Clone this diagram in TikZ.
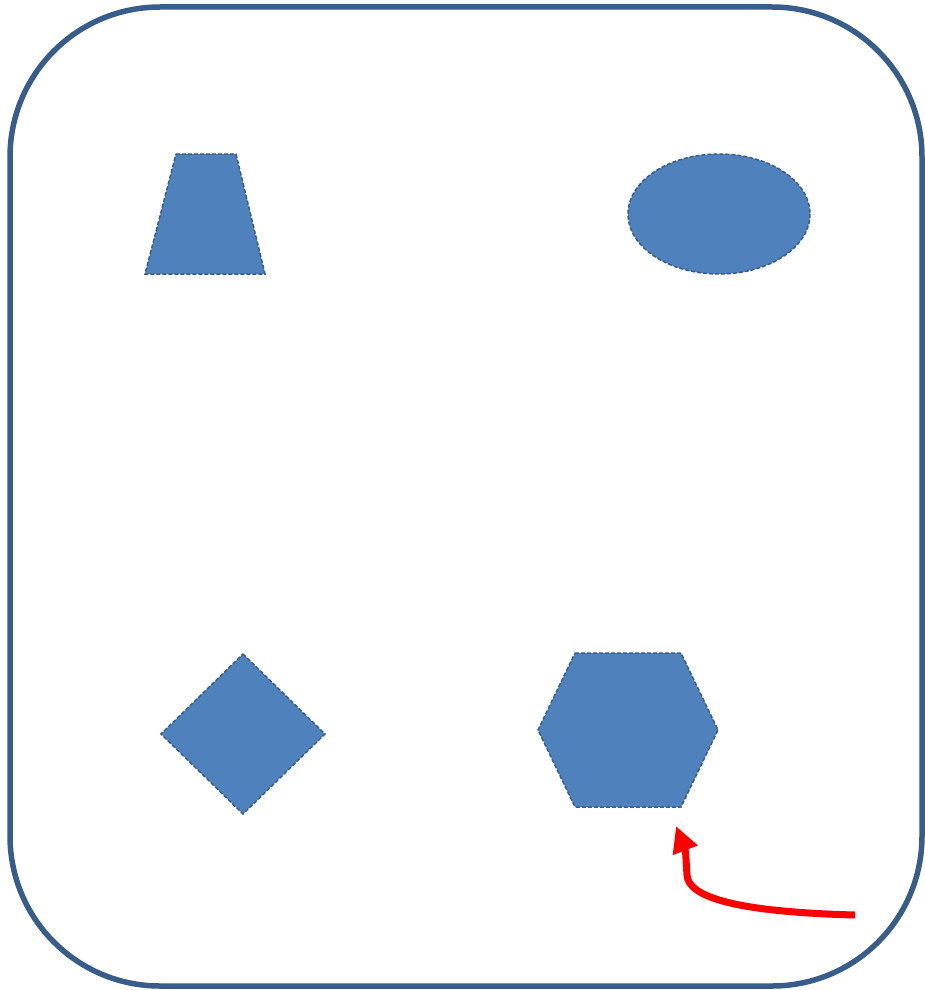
\documentclass[tikz,border=0pt]{standalone}
\usetikzlibrary{arrows.meta}
\definecolor{shapefill}{RGB}{79,129,189}
\definecolor{shapeline}{RGB}{56,93,138}
\tikzset{
  shp/.style={fill=shapefill, draw=shapeline, line width=1.5pt, dash pattern=on 4pt off 2pt},
  frame/.style={draw=shapeline, line width=5.5pt, rounded corners=150pt},
  redarrow/.style={draw=red, line width=7pt, -{Triangle[length=26pt,width=25pt]}}
}
\begin{document}
\begin{tikzpicture}[x=1pt,y=-1pt]
\useasboundingbox (0,0) rectangle (924,990);
\fill[white] (0,0) rectangle (924,990);
% frame
\draw[frame] (10,7) rectangle (922,986);
% trapezoid
\draw[shp] (176,154) -- (236,154) -- (265,274) -- (145,274) -- cycle;
% ellipse
\draw[shp] (719,214) ellipse [x radius=91, y radius=60];
% diamond
\draw[shp] (243,654) -- (325,734) -- (243,814) -- (161,734) -- cycle;
% hexagon
\draw[shp] (575,653) -- (681,653) -- (718,730) -- (681,807) -- (575,807) -- (538,730) -- cycle;
% arrow
\coordinate (start) at (855,915);
\coordinate (tip) at (676,826);
\draw[redarrow] (start) .. controls (740,912) and (688,898) .. (687,875) .. controls (686,862) and (686,852) .. (tip);
\end{tikzpicture}
\end{document}
